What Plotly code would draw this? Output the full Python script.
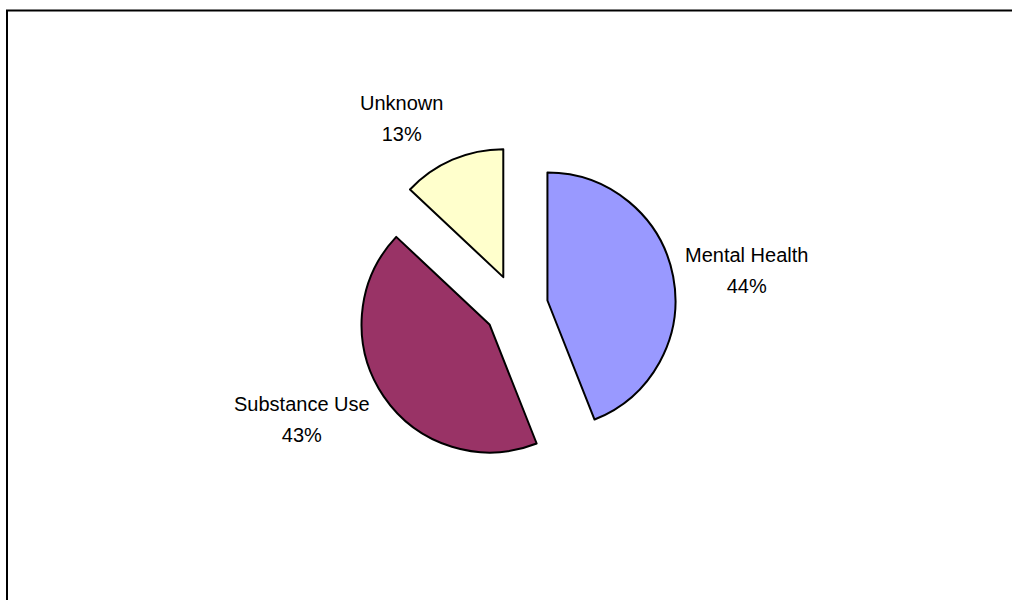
import math
import plotly.graph_objects as go

# Share of cases by primary problem area
categories = ["Mental Health", "Substance Use", "Unknown"]
shares = [44, 43, 13]
slice_colors = ["#9999FF", "#993366", "#FFFFCC"]

W, H = 1012, 600
FONT = "Liberation Sans, Arial, sans-serif"

# pie placement (pixels): centre, radius of the unexploded pie, explode fraction
CX, CY = 516, 306.5
R = 128
PULL = 0.25
half = R * (1 + PULL)

fig = go.Figure(
    go.Pie(
        labels=categories,
        values=shares,
        sort=False,
        direction="clockwise",
        rotation=0,
        pull=[PULL] * len(shares),
        marker=dict(colors=slice_colors, line=dict(color="#000000", width=2)),
        textinfo="none",
        hoverinfo="label+percent",
        domain=dict(x=[(CX - half) / W, (CX + half) / W],
                    y=[(H - CY - half) / H, (H - CY + half) / H]),
        showlegend=False,
    )
)

# outside labels: placed along each slice's bisector
label_dist = [170, 174, 179]
label_anchor = [("left", "middle"), ("right", "middle"), ("right", "bottom")]
label_yshift = [4, -15, -5]

total = sum(shares)
start = 0.0
for name, val, dist, (xa, ya), ys in zip(categories, shares, label_dist, label_anchor, label_yshift):
    frac = val / total
    mid = (start + frac / 2) * 2 * math.pi
    start += frac
    ax = CX + dist * math.sin(mid)
    ay = CY - dist * math.cos(mid)
    pct = f"{round(frac * 100)}%"
    fig.add_annotation(
        xref="paper", yref="paper",
        x=ax / W, y=1 - ay / H,
        xanchor=xa, yanchor=ya, yshift=ys,
        text=f"<span style='font-size:20px'>{name}</span><br><span style='font-size:20px'>{pct}</span>",
        showarrow=False, align="center",
        font=dict(family=FONT, size=24, color="#000000"),
    )

# chart-area frame
fig.add_shape(
    type="rect", xref="paper", yref="paper",
    x0=7 / W, x1=1.02, y0=-0.02, y1=1 - 10.5 / H,
    line=dict(color="#000000", width=2), fillcolor="rgba(0,0,0,0)",
)

fig.update_layout(
    width=W, height=H,
    margin=dict(l=0, r=0, t=0, b=0),
    paper_bgcolor="#FFFFFF",
    plot_bgcolor="#FFFFFF",
    font=dict(family=FONT, size=20, color="#000000"),
)

fig.write_html("out.html")
